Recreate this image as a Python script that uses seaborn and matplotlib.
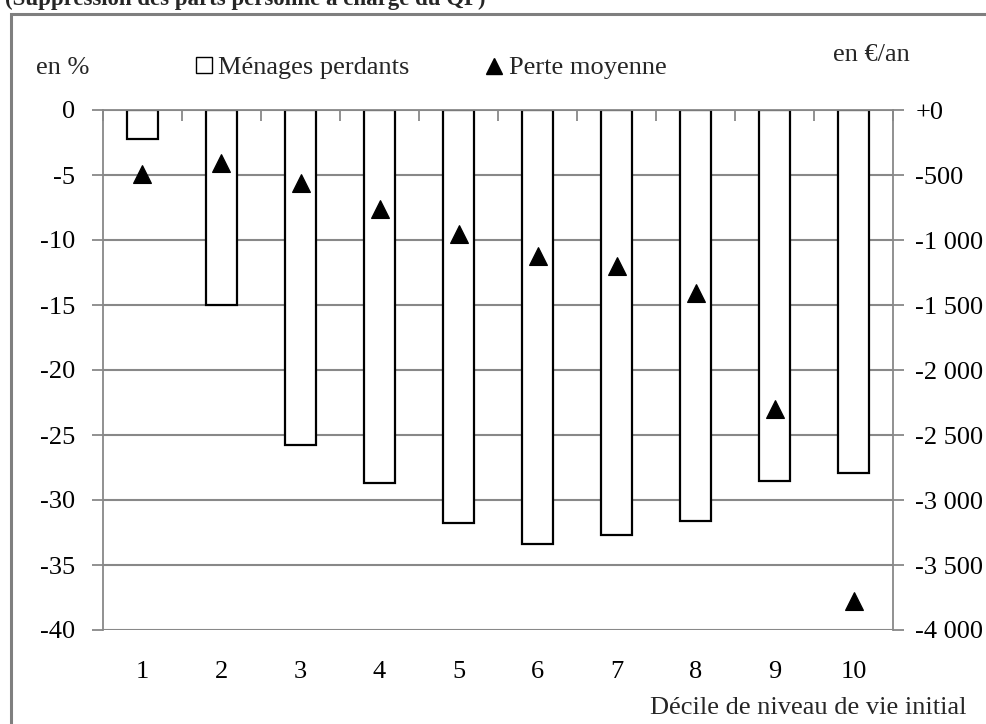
import numpy as np
import pandas as pd
import matplotlib
matplotlib.use("Agg")
import matplotlib.pyplot as plt
import seaborn as sns
from matplotlib.patches import Rectangle, Patch
from matplotlib.lines import Line2D
from matplotlib.ticker import FuncFormatter

deciles = ["1", "2", "3", "4", "5", "6", "7", "8", "9", "10"]
menages_perdants = [-2.2, -15.0, -25.8, -28.7, -31.8, -33.4, -32.7, -31.6, -28.5, -27.9]
perte_moyenne = [-490, -410, -565, -765, -955, -1125, -1200, -1410, -2300, -3775]

left_ticks = [0, -5, -10, -15, -20, -25, -30, -35, -40]
right_ticks = [0, -500, -1000, -1500, -2000, -2500, -3000, -3500, -4000]

title = "(Suppression des parts personne à charge du QF)"
xlabel = "Décile de niveau de vie initial"
legend_labels = ["Ménages perdants", "Perte moyenne"]

df = pd.DataFrame({"decile": deciles, "pct": menages_perdants, "perte": perte_moyenne})

sns.set_theme(style="white")
plt.rcParams["font.family"] = ["Liberation Serif", "DejaVu Serif"]

W, H = 986, 724
fig = plt.figure(figsize=(W / 100, H / 100), dpi=100)
ax = fig.add_axes([103 / W, 1 - 630 / H, (893 - 103) / W, (630 - 110) / H])

grid_c = "#888888"
fs = 19

sns.barplot(data=df, x="decile", y="pct", ax=ax, color="white", edgecolor="black",
            linewidth=1.6, width=0.4, saturation=1)
ax.set_ylim(-40, 0)
ax.set_xlim(-0.5, 9.5)
ax.set_yticks(left_ticks)
ax.set_yticklabels([str(t) for t in left_ticks])
ax.yaxis.grid(True, color=grid_c, linewidth=1.5)
ax.set_axisbelow(True)
ax.set_xlabel("")
ax.set_ylabel("")
for s in ["left", "right", "top", "bottom"]:
    ax.spines[s].set_visible(True)
    ax.spines[s].set_color(grid_c)
    ax.spines[s].set_linewidth(1.3)
ax.spines["bottom"].set_visible(False)
ax.tick_params(axis="y", which="major", left=True, length=8, width=1.3, color=grid_c,
               labelsize=fs, pad=12, labelcolor="black")
ax.tick_params(axis="x", which="major", bottom=False, top=False, labelsize=fs, pad=16,
               labelcolor="black")
ax.set_xticks(np.arange(-0.5, 10, 1), minor=True)
ax.tick_params(axis="x", which="minor", top=True, bottom=False, direction="in",
               length=8, width=1.3, color=grid_c)

ax2 = ax.twinx()
sns.pointplot(data=df, x="decile", y="perte", ax=ax2, linestyle="none", marker="^",
              color="black", markersize=13, markeredgewidth=0.8)
ax2.set_ylim(-4000, 0)
ax2.set_xlim(-0.5, 9.5)
ax2.set_yticks(right_ticks)

def fmt(v, pos):
    v = int(round(v))
    if v == 0:
        return "+0"
    s = f"{abs(v):,}".replace(",", " ")
    return "-" + s

ax2.yaxis.set_major_formatter(FuncFormatter(fmt))
ax2.set_ylabel("")
ax2.set_xlabel("")
for s in ["left", "right", "top", "bottom"]:
    ax2.spines[s].set_visible(False)
ax2.tick_params(axis="y", right=True, length=8, width=1.3, color=grid_c, labelsize=fs,
                pad=8, labelcolor="black")

# text labels
fig.text(36 / W, 1 - 68 / H, "en %", fontsize=fs, va="center", ha="left")
fig.text(833 / W, 1 - 55 / H, "en €/an", fontsize=fs, va="center", ha="left")
fig.text(966 / W, 1 - 708 / H, xlabel, fontsize=fs, va="center", ha="right")
fig.text(5 / W, 1 - 5 / H, title, fontsize=16.5, fontweight="bold", va="baseline", ha="left")

handles = [Patch(facecolor="white", edgecolor="black", linewidth=1.0),
           Line2D([], [], linestyle="none", marker="^", color="black", markersize=11)]
fig.legend(handles, legend_labels, loc="center left", bbox_to_anchor=(196 / W, 1 - 68 / H),
           ncol=2, frameon=False, fontsize=fs, handlelength=0.6, handleheight=0.6,
           handletextpad=0.25, columnspacing=2.9, borderaxespad=0, borderpad=0)

# outer frame
fig.patches.append(Rectangle((11 / W, -0.05), 1.2, 1 - 14 / H + 0.05, transform=fig.transFigure,
                             fill=False, edgecolor="#7f7f7f", linewidth=2.2))

fig.savefig("out.png", dpi=100)
